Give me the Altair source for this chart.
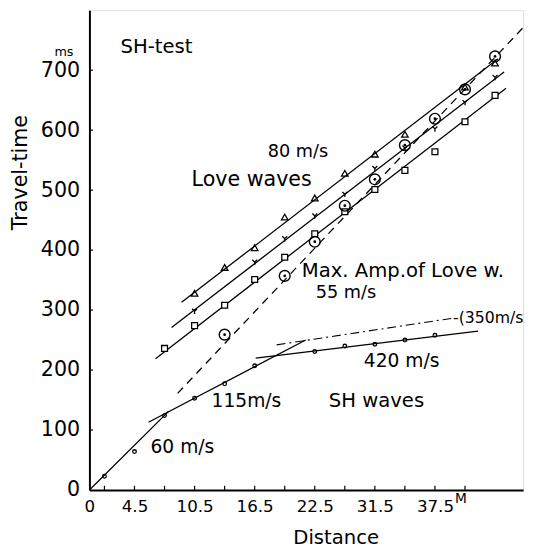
import altair as alt
import pandas as pd

# ---------------- data ----------------
# first arrivals (SH waves)
sh_x = [1.5, 4.5, 7.5, 10.5, 13.5, 16.5, 22.5, 25.5, 28.5, 31.5, 34.5]
sh_t = [23, 64, 124, 153, 177, 207, 231, 240, 243, 250, 258]

# Love waves, three picks
tri_x = [10.5, 13.5, 16.5, 19.5, 22.5, 25.5, 28.5, 31.5, 37.5, 40.5]
tri_t = [328, 371, 404, 455, 487, 528, 560, 593, 672, 712]

ym_x = [10.5, 16.5, 19.5, 22.5, 25.5, 28.5, 31.5, 34.5, 37.5, 40.5]
ym_t = [298, 380, 419, 457, 493, 536, 570, 602, 646, 688]

sq_x = [7.5, 10.5, 13.5, 16.5, 19.5, 22.5, 25.5, 28.5, 31.5, 34.5, 37.5, 40.5]
sq_t = [236, 274, 308, 351, 388, 427, 464, 501, 533, 564, 614, 658]

# maximum amplitude of Love waves
circ_x = [13.5, 19.5, 22.5, 25.5, 28.5, 31.5, 34.5, 37.5, 40.5]
circ_t = [259, 357, 414, 474, 518, 575, 619, 668, 723]

# fitted lines (segment id, start/end)
solid_seg = ["v60", "v60", "v115", "v115", "v420", "v420",
             "tri", "tri", "ym", "ym", "sq", "sq"]
solid_x = [0, 7.9, 5.9, 21.6, 16.6, 38.8, 9.2, 40.8, 8.2, 41.4, 6.6, 41.6]
solid_t = [0, 131, 113, 250, 220, 265, 313, 719, 271, 697, 219, 670]

dash_x = [8.8, 43.3]
dash_t = [161, 771]

dashdot_x = [18.7, 36.5]
dashdot_t = [242, 287]

# axis ticks and labels
x_tick_pos = [1.5, 4.5, 7.5, 10.5, 13.5, 16.5, 19.5, 22.5, 25.5, 28.5, 31.5, 34.5, 37.5]
x_label_pos = [0, 4.5, 10.5, 16.5, 22.5, 28.5, 34.5]
x_label_txt = ["0", "4.5", "10.5", "16.5", "22.5", "31.5", "37.5"]
y_tick_pos = [100, 200, 300, 400, 500, 600, 700]
y_label_pos = [0, 100, 200, 300, 400, 500, 600, 700]

# annotations
ann_txt = ["SH-test", "ms", "80 m/s", "Love waves", "Max. Amp.of Love w.", "55 m/s",
           "-(350m/s", "420 m/s", "115m/s", "SH waves", "60 m/s", "M"]
ann_x = [3.1, -3.5, 17.8, 10.2, 21.2, 22.6, 36.3, 27.4, 12.2, 23.9, 6.1, 36.5]
ann_t = [738, 730, 563, 517, 365, 328, 287, 215, 148, 148, 71, -16]
ann_fs = [20, 13, 18, 21, 20, 18, 16, 19, 19, 20, 19, 14]

FONT = "DejaVu Sans"
XDOM = [0, 43.3]
YDOM = [0, 800]

xs = alt.Scale(domain=XDOM, nice=False, zero=False)
ys = alt.Scale(domain=YDOM, nice=False, zero=False)

label_expr = "{}[indexof({}, datum.value)]".format(
    "[" + ",".join("'%s'" % t for t in x_label_txt) + "]",
    "[" + ",".join(str(v) for v in x_label_pos) + "]",
)

x_axis = alt.Axis(values=x_label_pos, labelExpr=label_expr, ticks=False, grid=False,
                  domainWidth=2, domainColor="black", labelFontSize=17, labelPadding=9,
                  labelColor="black", labelFont=FONT, title="Distance", titleFont=FONT,
                  titleFontSize=20, titleFontWeight="normal", titleColor="black",
                  titleX=251, titleY=49, titleAnchor="start", titleAlign="center",
                  titleBaseline="middle", labelFlush=False, labelOverlap=False)
y_axis = alt.Axis(values=y_label_pos, ticks=False, grid=False, domainWidth=2,
                  domainColor="black", labelFontSize=21, labelPadding=10,
                  labelColor="black", labelFont=FONT, title="Travel-time",
                  titleFont=FONT, titleFontSize=21, titleFontWeight="normal",
                  titleColor="black", titleX=-70, titleY=165, titleAngle=270,
                  titleAlign="center", titleBaseline="middle", labelFlush=False,
                  labelOverlap=False)

solid_df = pd.DataFrame({"seg": solid_seg, "x": solid_x, "t": solid_t})
base_solid = alt.Chart(solid_df).mark_line(color="black", strokeWidth=1.3).encode(
    x=alt.X("x:Q", scale=xs, axis=x_axis),
    y=alt.Y("t:Q", scale=ys, axis=y_axis),
    detail="seg:N",
)

dash = alt.Chart(pd.DataFrame({"x": dash_x, "t": dash_t})).mark_line(
    color="black", strokeWidth=1.3, strokeDash=[8, 6]).encode(
    x=alt.X("x:Q", scale=xs), y=alt.Y("t:Q", scale=ys))

dashdot = alt.Chart(pd.DataFrame({"x": dashdot_x, "t": dashdot_t})).mark_line(
    color="black", strokeWidth=1.1, strokeDash=[9, 4, 2, 4]).encode(
    x=alt.X("x:Q", scale=xs), y=alt.Y("t:Q", scale=ys))

def pts(xv, tv, **kw):
    return alt.Chart(pd.DataFrame({"x": xv, "t": tv})).mark_point(**kw).encode(
        x=alt.X("x:Q", scale=xs), y=alt.Y("t:Q", scale=ys))

sh_pts = pts(sh_x, sh_t, shape="circle", size=14, filled=False, color="black",
             strokeWidth=1.3, opacity=1)
tri_pts = pts(tri_x, tri_t, shape="triangle-up", size=45, filled=False, color="black",
              strokeWidth=1.3, opacity=1)
ym_pts = pts(ym_x, ym_t, shape="M-0.8,-0.8L0,0L0.8,-0.8M0,0L0,0.9", size=40,
             filled=False, color="black", strokeWidth=1.3, opacity=1)
sq_pts = pts(sq_x, sq_t, shape="square", size=36, filled=False, color="black",
             strokeWidth=1.3, opacity=1, fill="white")
circ_pts = pts(circ_x, circ_t, shape="circle", size=120, filled=False, color="black",
               strokeWidth=1.4, opacity=1)
circ_dot = pts(circ_x, circ_t, shape="circle", size=8, filled=True, color="black",
               opacity=1)

xt = alt.Chart(pd.DataFrame({"x": x_tick_pos})).mark_rule(
    color="black", strokeWidth=1.2).encode(
    x=alt.X("x:Q", scale=xs), y=alt.Y("y0:Q", scale=ys), y2="y1:Q"
).transform_calculate(y0="0", y1="7")

yt = alt.Chart(pd.DataFrame({"t": y_tick_pos})).mark_rule(
    color="black", strokeWidth=1.2).encode(
    y=alt.Y("t:Q", scale=ys), x=alt.X("x0:Q", scale=xs), x2="x1:Q"
).transform_calculate(x0="0", x1="0.35")

ann = alt.Chart(pd.DataFrame({"txt": ann_txt, "x": ann_x, "t": ann_t, "fs": ann_fs})
                ).mark_text(align="left", baseline="middle", font=FONT,
                            color="black").encode(
    x=alt.X("x:Q", scale=xs), y=alt.Y("t:Q", scale=ys), text="txt:N",
    size=alt.Size("fs:Q", scale=None, legend=None))

chart = alt.layer(base_solid, dash, dashdot, xt, yt, sh_pts, tri_pts, ym_pts, sq_pts,
                  circ_pts, circ_dot, ann).properties(
    width=442, height=489,
    autosize=alt.AutoSizeParams(type="none"),
    padding={"left": 83, "top": -3, "right": 4, "bottom": 60},
).configure_view(stroke="black", strokeWidth=1).configure(background="white")

chart.save("out.html", embed_options={"renderer": "svg", "actions": False})
